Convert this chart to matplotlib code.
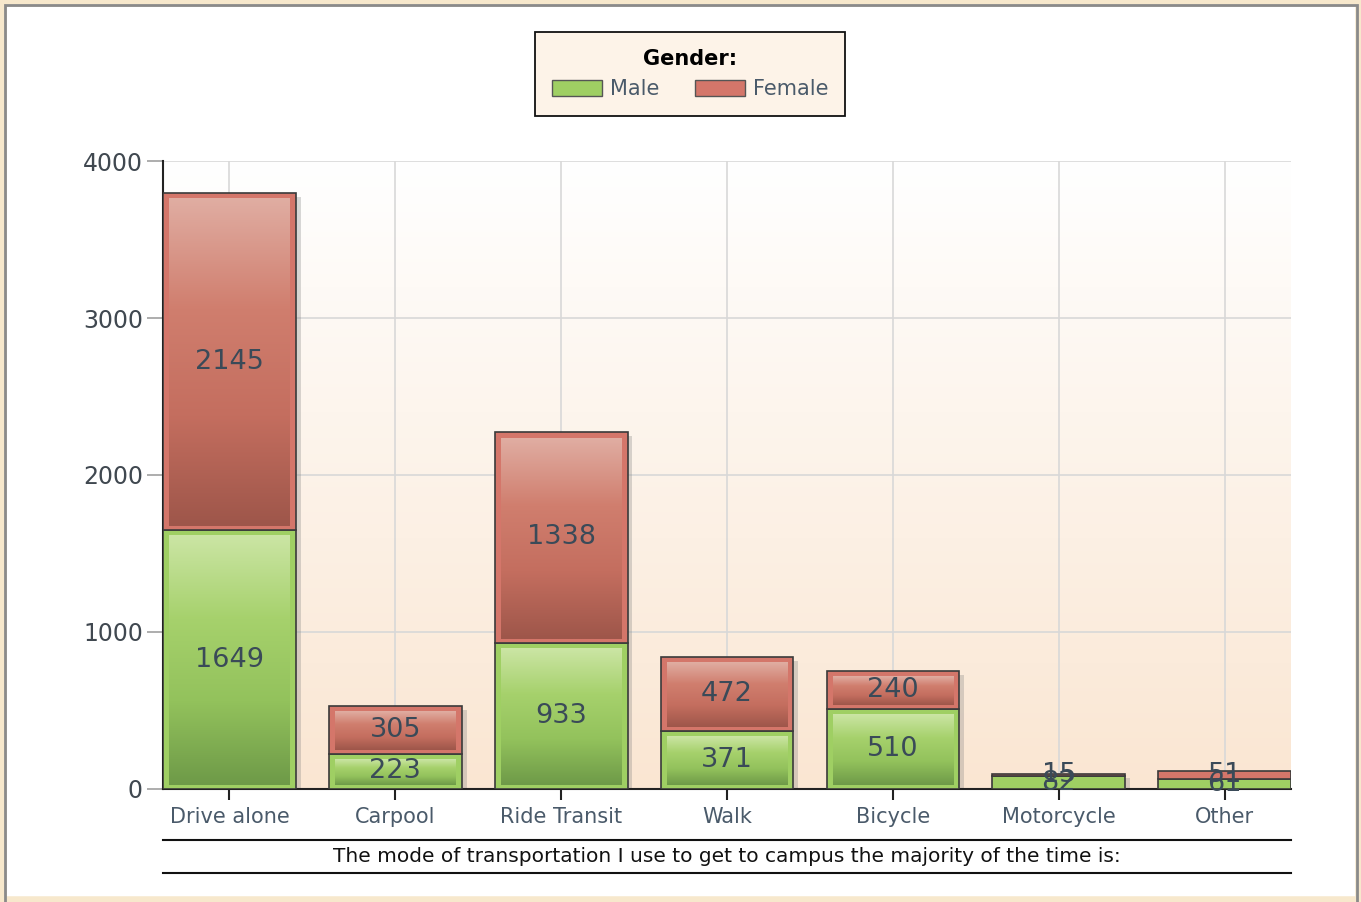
import matplotlib
matplotlib.use('Agg')
import matplotlib.pyplot as plt
from matplotlib.colors import LinearSegmentedColormap
from matplotlib.patches import Patch, Rectangle
import numpy as np

CATEGORIES = ['Drive alone', 'Carpool', 'Ride Transit', 'Walk', 'Bicycle', 'Motorcycle', 'Other']
MALE = [1649, 223, 933, 371, 510, 82, 61]
FEMALE = [2145, 305, 1338, 472, 240, 15, 51]
SERIES_NAMES = ['Male', 'Female']
Y_TICKS = [0, 1000, 2000, 3000, 4000]
X_TITLE = 'The mode of transportation I use to get to campus the majority of the time is:'
LEGEND_TITLE = 'Gender:'

GREEN = '#9FCF63'
RED = '#D4766A'
GREEN_GRAD = ['#CBE5A4', '#A6D16C', '#93C25C', '#6E9A48']
RED_GRAD = ['#E0ADA2', '#D07E6E', '#C46E5F', '#9E564A']
LABEL_COLOR = '#3A4A58'
BAR_W = 0.8

fig = plt.figure(figsize=(13.61, 9.02), dpi=100)
ax = fig.add_axes([0.1198, 0.1253, 0.8288, 0.6962])

# plot background gradient, white at top to light peach at bottom
bg = LinearSegmentedColormap.from_list('bg', ['#FFFFFF', '#FAE6D2'])
ax.imshow(np.linspace(0, 1, 256).reshape(-1, 1), cmap=bg, aspect='auto',
          extent=(0, 1, 0, 1), transform=ax.transAxes, zorder=0)

x = np.arange(len(CATEGORIES))
px_x = 165.7      # pixels per category unit
px_y = 0.157      # pixels per data unit
inset_x = 6 / px_x
inset_y = 6 / px_y

def draw_segment(xc, bottom, height, base, grad):
    ax.bar(xc, height, BAR_W, bottom=bottom, color=base, edgecolor='#3A3A3A',
           linewidth=1.2, zorder=3)
    if height * px_y > 14:
        cmap = LinearSegmentedColormap.from_list('g', grad)
        ax.imshow(np.linspace(0, 1, 128).reshape(-1, 1), cmap=cmap, aspect='auto',
                  extent=(xc - BAR_W / 2 + inset_x, xc + BAR_W / 2 - inset_x,
                          bottom + inset_y * 0.6, bottom + height - inset_y),
                  origin='upper', zorder=4, interpolation='bilinear')

for i in range(len(CATEGORIES)):
    total = MALE[i] + FEMALE[i]
    # soft shadow on the right
    ax.add_patch(Rectangle((x[i] - BAR_W / 2 + 0.03, 0), BAR_W, total - 25,
                           color='#808080', alpha=0.3, zorder=2, linewidth=0))
    draw_segment(x[i], 0, MALE[i], GREEN, GREEN_GRAD)
    draw_segment(x[i], MALE[i], FEMALE[i], RED, RED_GRAD)
    ax.text(x[i], MALE[i] / 2, str(MALE[i]), ha='center', va='center',
            fontsize=19.5, color=LABEL_COLOR, zorder=6)
    ax.text(x[i], MALE[i] + FEMALE[i] / 2, str(FEMALE[i]), ha='center', va='center',
            fontsize=19.5, color=LABEL_COLOR, zorder=6)

ax.set_xlim(-0.4, 6.4)
ax.set_ylim(0, 4000)
ax.set_xticks(x)
ax.set_xticklabels(CATEGORIES, fontsize=15, color='#4A5A6A')
ax.set_yticks(Y_TICKS)
ax.set_yticklabels([str(v) for v in Y_TICKS], fontsize=17, color='#404850')
ax.tick_params(axis='y', length=11.5, color='#A0A0A0', width=1.2, pad=3)
ax.tick_params(axis='x', length=8, color='#222222', width=1.5, pad=5)
ax.grid(True, color='#D8D8D8', linewidth=1.2, zorder=1)
ax.set_axisbelow(True)
for side in ['top', 'right']:
    ax.spines[side].set_visible(False)
ax.spines['left'].set_color('#222222')
ax.spines['bottom'].set_color('#222222')
ax.spines['left'].set_linewidth(1.5)
ax.spines['bottom'].set_linewidth(1.5)

# axis title between two rules
for yy in [-0.0812, -0.1338]:
    ax.plot([0, 1], [yy, yy], transform=ax.transAxes, color='#111111',
            linewidth=1.5, clip_on=False)
ax.text(0.5, -0.1075, X_TITLE, transform=ax.transAxes, ha='center', va='center',
        fontsize=14.5, color='#111111')

handles = [Patch(facecolor=GREEN, edgecolor='#555555'),
           Patch(facecolor=RED, edgecolor='#555555')]
leg = fig.legend(handles, SERIES_NAMES, title=LEGEND_TITLE, loc='center',
                 bbox_to_anchor=(0.507, 0.918), ncol=2, fontsize=15,
                 title_fontproperties={'weight': 'bold', 'size': 15},
                 fancybox=False, edgecolor='#111111', facecolor='#FDF3E8',
                 framealpha=1, handlelength=2.4, handleheight=0.8,
                 columnspacing=1.7, handletextpad=0.4, borderpad=0.8,
                 labelcolor='#4A5A6A')
leg.get_frame().set_linewidth(1.3)

# outer frame
fig.patches.append(Rectangle((0, 0), 1, 1, transform=fig.transFigure, fill=False,
                             edgecolor='#F7E8CC', linewidth=9))
fig.patches.append(Rectangle((4.5 / 1361, -0.01), 1 - 9 / 1361, 1 - 4.5 / 902 + 0.01,
                             transform=fig.transFigure, fill=False,
                             edgecolor='#8A8A8A', linewidth=2))

fig.savefig('out.png', dpi=100)
